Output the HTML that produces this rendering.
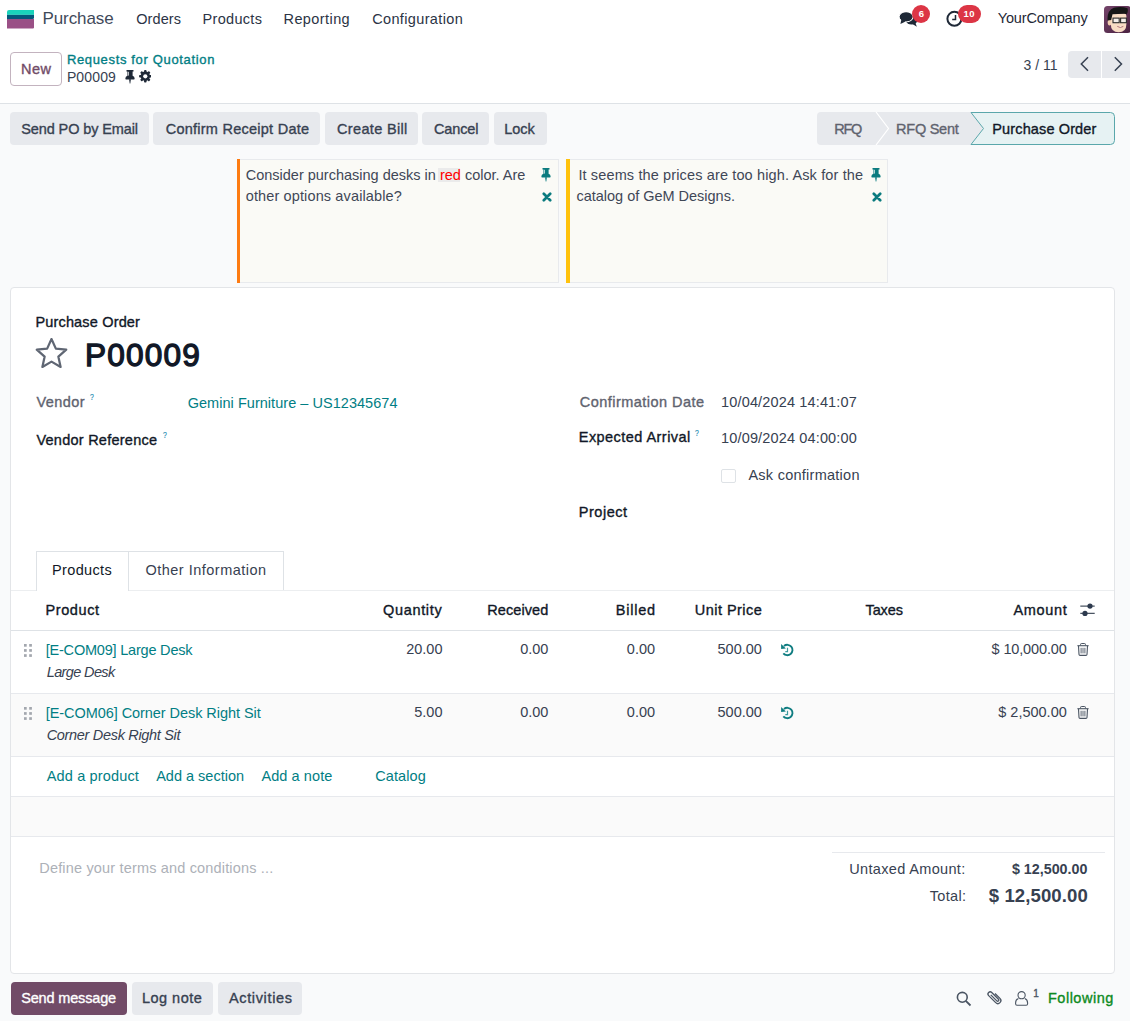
<!DOCTYPE html>
<html><head><meta charset="utf-8"><title>P00009</title>
<style>
html,body{margin:0;padding:0;width:1130px;height:1021px;overflow:hidden;background:#f9fafb;font-family:"Liberation Sans", sans-serif;}
.t{position:absolute;line-height:1;white-space:nowrap;font-family:"Liberation Sans", sans-serif;}
</style></head><body>
<div style="position:absolute;left:0px;top:0px;width:1130.00px;height:103.00px;background:#fff"></div>
<div style="position:absolute;left:0px;top:103px;width:1130.00px;height:1.00px;background:#dee2e6"></div>
<div style="position:absolute;left:0px;top:104px;width:1130.00px;height:917.00px;background:#f9fafb"></div>
<svg style="position:absolute;left:6.7px;top:10.1px" width="27.2" height="18.6" viewBox="0 0 27.2 18.6">
<path d="M0 8.7H27.2V16.6Q27.2 18.6 25.2 18.6H0Z" fill="#9a5086"/>
<path d="M0 4.4H27.2V7.2Q27.2 9 25.4 9H0Z" fill="#04587a"/>
<path d="M2 0H27.2V4.7H0V2Q0 0 2 0Z" fill="#1ad3bb"/></svg>
<div class="t" style="left:42.40px;top:10.11px;font-size:17px;color:#3f4a5a;letter-spacing:-0.066px;">Purchase</div>
<div class="t" style="left:136.20px;top:11.63px;font-size:14.5px;color:#2b3445;letter-spacing:0.107px;">Orders</div>
<div class="t" style="left:202.50px;top:11.63px;font-size:14.5px;color:#2b3445;letter-spacing:0.318px;">Products</div>
<div class="t" style="left:283.50px;top:11.63px;font-size:14.5px;color:#2b3445;letter-spacing:0.412px;">Reporting</div>
<div class="t" style="left:372.20px;top:11.63px;font-size:14.5px;color:#2b3445;letter-spacing:0.360px;">Configuration</div>
<svg style="position:absolute;left:898px;top:10px" width="22" height="18" viewBox="0 0 22 18">
<ellipse cx="13.6" cy="10.3" rx="5.8" ry="4.3" fill="#1f2937"/>
<path d="M14.5 14L18.8 16.7L17.3 12.5Z" fill="#1f2937"/>
<ellipse cx="8.1" cy="6.85" rx="6.9" ry="4.95" fill="#1f2937" stroke="#fff" stroke-width="1.1"/>
<path d="M3.4 9.6L2.4 14L7.6 11.4Z" fill="#1f2937"/>
<ellipse cx="8.1" cy="6.85" rx="6.4" ry="4.45" fill="#1f2937"/>
</svg>
<div style="position:absolute;left:912.2px;top:5px;width:17.80px;height:17.80px;border-radius:9px;background:#dc3545"></div>
<div class="t" style="left:918.70px;top:9.36px;font-size:9.5px;color:#fff;font-weight:700;">6</div>
<svg style="position:absolute;left:946px;top:9.5px" width="18" height="18" viewBox="0 0 18 18">
<circle cx="8.4" cy="8.8" r="7" fill="none" stroke="#1f2937" stroke-width="2"/>
<path d="M9.5 5V9.6H6.2" fill="none" stroke="#1f2937" stroke-width="1.5"/></svg>
<div style="position:absolute;left:958px;top:5px;width:23.00px;height:17.80px;border-radius:9px;background:#dc3545"></div>
<div class="t" style="left:963.60px;top:9.36px;font-size:9.5px;color:#fff;font-weight:700;letter-spacing:0.317px;">10</div>
<div class="t" style="left:997.70px;top:11.23px;font-size:14.5px;color:#1f2937;letter-spacing:-0.130px;">YourCompany</div>
<svg style="position:absolute;left:1104px;top:6px" width="27" height="27" viewBox="0 0 27 27">
<defs><linearGradient id="av" x1="0" y1="0" x2="1" y2="1"><stop offset="0" stop-color="#74446a"/><stop offset="1" stop-color="#4a2140"/></linearGradient></defs>
<rect width="27" height="27" rx="3.5" fill="url(#av)"/>
<ellipse cx="5.6" cy="16.6" rx="1.9" ry="3" fill="#f3cfb0"/>
<path d="M6.8 10Q6.8 7.6 9.2 7.6H20Q22.4 7.6 22.4 10V18Q22.4 26.2 14.6 26.2Q6.8 26.2 6.8 18Z" fill="#f8dcc4"/>
<path d="M3.6 14.5Q2.8 4.5 10 1.8Q17 -0.2 23.5 2.2Q24.5 5.5 22.6 8.2Q21 7.4 19.5 7.8L8.5 8.2L7.2 14Z" fill="#161616"/>
<rect x="9" y="12.1" width="6.2" height="4.6" fill="#f4eee9" stroke="#2b2b2b" stroke-width="1.1"/>
<rect x="16.6" y="12.1" width="5.8" height="4.6" fill="#f4eee9" stroke="#2b2b2b" stroke-width="1.1"/>
<path d="M13.3 20.4Q16.3 22.6 19.3 20.4" fill="#fff" stroke="#b07070" stroke-width="1"/>
</svg>
<div style="position:absolute;left:10px;top:52px;width:50px;height:32px;border:1px solid #c3b3bf;border-radius:4px;background:#fff"></div>
<div class="t" style="left:21.10px;top:61.93px;font-size:14.5px;color:#714b67;letter-spacing:0.382px;-webkit-text-stroke:0.35px;">New</div>
<div class="t" style="left:66.90px;top:53.00px;font-size:13px;color:#017e84;letter-spacing:0.659px;-webkit-text-stroke:0.35px;">Requests for Quotation</div>
<div class="t" style="left:66.90px;top:69.85px;font-size:14px;color:#374151;letter-spacing:0.144px;">P00009</div>
<svg style="position:absolute;left:124.6px;top:70.3px" width="10" height="14" viewBox="0 0 10 14">
<path d="M1.4 0.6Q1.4 0 2 0H8Q8.6 0 8.6 0.6V1.2Q8.6 1.6 8 1.6H7.6V5.8Q9.6 6.6 9.6 8.2V8.8Q9.6 9.4 9 9.4H1Q0.4 9.4 0.4 8.8V8.2Q0.4 6.6 2.4 5.8V1.6H2Q1.4 1.6 1.4 1.2Z" fill="#1f2937"/>
<path d="M3.4 1.8V5.6" stroke="#fff" stroke-width="0.8"/>
<path d="M4.1 9.3H5.9L5.3 13.5H4.7Z" fill="#1f2937"/></svg>
<svg style="position:absolute;left:138.5px;top:70.2px" width="12.6" height="12.6" viewBox="-6.3 -6.3 12.6 12.6">
<g fill="#1f2937"><circle r="4.7"/><rect x="-1.25" y="-6.2" width="2.5" height="3" rx="0.8" transform="rotate(0)"/><rect x="-1.25" y="-6.2" width="2.5" height="3" rx="0.8" transform="rotate(45)"/><rect x="-1.25" y="-6.2" width="2.5" height="3" rx="0.8" transform="rotate(90)"/><rect x="-1.25" y="-6.2" width="2.5" height="3" rx="0.8" transform="rotate(135)"/><rect x="-1.25" y="-6.2" width="2.5" height="3" rx="0.8" transform="rotate(180)"/><rect x="-1.25" y="-6.2" width="2.5" height="3" rx="0.8" transform="rotate(225)"/><rect x="-1.25" y="-6.2" width="2.5" height="3" rx="0.8" transform="rotate(270)"/><rect x="-1.25" y="-6.2" width="2.5" height="3" rx="0.8" transform="rotate(315)"/></g><circle r="2.1" fill="#fff"/></svg>
<div class="t" style="left:1023.60px;top:57.75px;font-size:14px;color:#374151;">3 / 11</div>
<div style="position:absolute;left:1068px;top:51px;width:33.00px;height:27.00px;background:#e7e9ed;border-radius:4px 0 0 4px"></div>
<div style="position:absolute;left:1102px;top:51px;width:34.00px;height:27.00px;background:#e7e9ed;border-radius:0 4px 4px 0"></div>
<svg style="position:absolute;left:1079px;top:56px" width="11" height="16" viewBox="0 0 11 16"><path d="M9 1.2L2.3 8L9 14.8" fill="none" stroke="#374151" stroke-width="1.5"/></svg>
<svg style="position:absolute;left:1112.5px;top:56px" width="11" height="16" viewBox="0 0 11 16"><path d="M1.8 1.2L8.5 8L1.8 14.8" fill="none" stroke="#374151" stroke-width="1.5"/></svg>
<div style="position:absolute;left:10px;top:112px;width:139.00px;height:33.00px;background:#e7e9ed;border-radius:4px"></div>
<div class="t" style="left:21.30px;top:121.53px;font-size:14.5px;color:#374151;letter-spacing:-0.117px;-webkit-text-stroke:0.35px;">Send PO by Email</div>
<div style="position:absolute;left:153.3px;top:112px;width:167.20px;height:33.00px;background:#e7e9ed;border-radius:4px"></div>
<div class="t" style="left:165.70px;top:121.53px;font-size:14.5px;color:#374151;letter-spacing:0.250px;-webkit-text-stroke:0.35px;">Confirm Receipt Date</div>
<div style="position:absolute;left:325.3px;top:112px;width:92.40px;height:33.00px;background:#e7e9ed;border-radius:4px"></div>
<div class="t" style="left:337.00px;top:121.53px;font-size:14.5px;color:#374151;letter-spacing:0.344px;-webkit-text-stroke:0.35px;">Create Bill</div>
<div style="position:absolute;left:422.4px;top:112px;width:67.10px;height:33.00px;background:#e7e9ed;border-radius:4px"></div>
<div class="t" style="left:434.00px;top:121.53px;font-size:14.5px;color:#374151;letter-spacing:-0.143px;-webkit-text-stroke:0.35px;">Cancel</div>
<div style="position:absolute;left:493.7px;top:112px;width:53.10px;height:33.00px;background:#e7e9ed;border-radius:4px"></div>
<div class="t" style="left:504.20px;top:121.53px;font-size:14.5px;color:#374151;-webkit-text-stroke:0.35px;">Lock</div>
<svg style="position:absolute;left:817px;top:112px" width="298" height="33" viewBox="0 0 298 33">
<path d="M4 0H59L71.5 16.5L59 33H4Q0 33 0 29V4Q0 0 4 0Z" fill="#e7e9ed"/>
<path d="M59 0H154L166.5 16.5L154 33H59L71.5 16.5Z" fill="#e7e9ed"/>
<path d="M59 0L71.5 16.5L59 33" fill="none" stroke="#fff" stroke-width="1.2"/>
<path d="M154 0.5H293.5Q297.5 0.5 297.5 4.5V28.5Q297.5 32.5 293.5 32.5H154L166.5 16.5Z" fill="#e6f2f3" stroke="#5aa7ab" stroke-width="1"/>
</svg>
<div class="t" style="left:834.20px;top:121.53px;font-size:14.5px;color:#5f636f;letter-spacing:-1.214px;-webkit-text-stroke:0.35px;">RFQ</div>
<div class="t" style="left:896.10px;top:121.53px;font-size:14.5px;color:#5f636f;letter-spacing:-0.262px;-webkit-text-stroke:0.35px;">RFQ Sent</div>
<div class="t" style="left:992.30px;top:121.53px;font-size:14.5px;color:#111827;letter-spacing:0.129px;-webkit-text-stroke:0.35px;">Purchase Order</div>
<div style="position:absolute;left:236.5px;top:158.5px;width:322.00px;height:124.50px;background:#fafaf6;border:1px solid #e8eaed;box-sizing:border-box;"></div>
<div style="position:absolute;left:236.5px;top:158.5px;width:3.60px;height:124.50px;background:#fd7b12"></div>
<div style="position:absolute;left:566.4px;top:158.5px;width:322.00px;height:124.50px;background:#fafaf6;border:1px solid #e8eaed;box-sizing:border-box;"></div>
<div style="position:absolute;left:566.4px;top:158.5px;width:3.60px;height:124.50px;background:#ffc20e"></div>
<div style="position:absolute;left:438px;top:167.6px;width:22.3px;height:14.6px;background:#ebebeb"></div>
<div class="t" style="left:245.70px;top:168.03px;font-size:14.5px;color:#3f4756;">Consider purchasing desks in <span style="color:#f00">red</span> color. Are</div>
<div class="t" style="left:245.70px;top:189.03px;font-size:14.5px;color:#3f4756;letter-spacing:0.130px;">other options available?</div>
<div class="t" style="left:578.40px;top:168.03px;font-size:14.5px;color:#3f4756;letter-spacing:0.132px;">It seems the prices are too high. Ask for the</div>
<div class="t" style="left:576.50px;top:189.03px;font-size:14.5px;color:#3f4756;letter-spacing:-0.016px;">catalog of GeM Designs.</div>
<svg style="position:absolute;left:540.6px;top:168.4px" width="10" height="14" viewBox="0 0 10 14">
<path d="M1.4 0.6Q1.4 0 2 0H8Q8.6 0 8.6 0.6V1.2Q8.6 1.6 8 1.6H7.6V5.8Q9.6 6.6 9.6 8.2V8.8Q9.6 9.4 9 9.4H1Q0.4 9.4 0.4 8.8V8.2Q0.4 6.6 2.4 5.8V1.6H2Q1.4 1.6 1.4 1.2Z" fill="#0b7b7f"/>
<path d="M3.4 1.8V5.6" stroke="#fafaf6" stroke-width="0.8"/>
<path d="M4.1 9.3H5.9L5.3 13.5H4.7Z" fill="#0b7b7f"/></svg>
<svg style="position:absolute;left:541.6px;top:191.6px" width="10" height="10" viewBox="0 0 10 10">
<path d="M1.8 1.8L8.2 8.2M8.2 1.8L1.8 8.2" stroke="#0b7b7f" stroke-width="2.7" stroke-linecap="round"/></svg>
<svg style="position:absolute;left:871px;top:168.4px" width="10" height="14" viewBox="0 0 10 14">
<path d="M1.4 0.6Q1.4 0 2 0H8Q8.6 0 8.6 0.6V1.2Q8.6 1.6 8 1.6H7.6V5.8Q9.6 6.6 9.6 8.2V8.8Q9.6 9.4 9 9.4H1Q0.4 9.4 0.4 8.8V8.2Q0.4 6.6 2.4 5.8V1.6H2Q1.4 1.6 1.4 1.2Z" fill="#0b7b7f"/>
<path d="M3.4 1.8V5.6" stroke="#fafaf6" stroke-width="0.8"/>
<path d="M4.1 9.3H5.9L5.3 13.5H4.7Z" fill="#0b7b7f"/></svg>
<svg style="position:absolute;left:872.4px;top:191.8px" width="10" height="10" viewBox="0 0 10 10">
<path d="M1.8 1.8L8.2 8.2M8.2 1.8L1.8 8.2" stroke="#0b7b7f" stroke-width="2.7" stroke-linecap="round"/></svg>
<div style="position:absolute;left:10px;top:287px;width:1103px;height:685px;background:#fff;border:1px solid #e3e5e8;border-radius:4px"></div>
<div class="t" style="left:35.40px;top:315.43px;font-size:14.5px;color:#111827;letter-spacing:0.168px;-webkit-text-stroke:0.35px;">Purchase Order</div>
<svg style="position:absolute;left:35px;top:337.5px" width="33" height="32" viewBox="0 0 33 32">
<path d="M16.5 2.2L20.6 11.2L30.4 12.2L23 18.8L25.1 28.5L16.5 23.5L7.9 28.5L10 18.8L2.6 12.2L12.4 11.2Z" fill="none" stroke="#5f6673" stroke-width="2.1" stroke-linejoin="round" transform="translate(16.5 16) scale(1.06) translate(-16.5 -16.3)"/></svg>
<div class="t" style="left:84.90px;top:339.65px;font-size:31.6px;color:#111827;letter-spacing:1.189px;-webkit-text-stroke:1.3px">P00009</div>
<div class="t" style="left:36.40px;top:394.53px;font-size:14.5px;color:#5f636f;letter-spacing:0.434px;-webkit-text-stroke:0.35px;">Vendor</div>
<div class="t" style="left:89.6px;top:391.59999999999997px;font-size:9.5px;color:#2b8fb3;-webkit-text-stroke:0.2px;transform:scaleX(0.72);transform-origin:0 0">?</div>
<div class="t" style="left:187.70px;top:396.23px;font-size:14.5px;color:#017e84;letter-spacing:0.036px;">Gemini Furniture – US12345674</div>
<div class="t" style="left:36.40px;top:432.73px;font-size:14.5px;color:#111827;letter-spacing:0.252px;-webkit-text-stroke:0.35px;">Vendor Reference</div>
<div class="t" style="left:162.70000000000002px;top:429.79999999999995px;font-size:9.5px;color:#2b8fb3;-webkit-text-stroke:0.2px;transform:scaleX(0.72);transform-origin:0 0">?</div>
<div class="t" style="left:579.80px;top:395.33px;font-size:14.5px;color:#5f636f;letter-spacing:0.463px;-webkit-text-stroke:0.35px;">Confirmation Date</div>
<div class="t" style="left:721.10px;top:395.33px;font-size:14.5px;color:#374151;letter-spacing:0.146px;">10/04/2024 14:41:07</div>
<div class="t" style="left:578.80px;top:429.83px;font-size:14.5px;color:#111827;letter-spacing:0.443px;-webkit-text-stroke:0.35px;">Expected Arrival</div>
<div class="t" style="left:695.1999999999999px;top:427.9px;font-size:9.5px;color:#2b8fb3;-webkit-text-stroke:0.2px;transform:scaleX(0.72);transform-origin:0 0">?</div>
<div class="t" style="left:721.10px;top:431.13px;font-size:14.5px;color:#374151;letter-spacing:0.146px;">10/09/2024 04:00:00</div>
<div style="position:absolute;left:720.8px;top:469.4px;width:15.10px;height:14.00px;border:1px solid #dee2e6;box-sizing:border-box;border-radius:2px;background:#fff"></div>
<div class="t" style="left:748.40px;top:468.33px;font-size:14.5px;color:#374151;letter-spacing:0.259px;">Ask confirmation</div>
<div class="t" style="left:578.80px;top:505.43px;font-size:14.5px;color:#111827;letter-spacing:0.533px;-webkit-text-stroke:0.35px;">Project</div>
<div style="position:absolute;left:11px;top:589.5px;width:1103.00px;height:1.00px;background:#eceef0"></div>
<div style="position:absolute;left:35.5px;top:550.5px;width:93.5px;height:40px;background:#fff;border:1px solid #dee2e6;border-bottom:none;box-sizing:border-box"></div>
<div style="position:absolute;left:128.5px;top:550.5px;width:155.5px;height:39px;border:1px solid #dee2e6;border-left:none;border-bottom:none;box-sizing:border-box"></div>
<div class="t" style="left:52.10px;top:563.03px;font-size:14.5px;color:#111827;letter-spacing:0.347px;">Products</div>
<div class="t" style="left:145.50px;top:563.03px;font-size:14.5px;color:#374151;letter-spacing:0.484px;">Other Information</div>
<div style="position:absolute;left:11px;top:630.3px;width:1103.00px;height:1.00px;background:#dee2e6"></div>
<div class="t" style="left:45.50px;top:602.73px;font-size:14.5px;color:#111827;letter-spacing:0.593px;-webkit-text-stroke:0.35px;">Product</div>
<div class="t" style="left:383.00px;top:602.73px;font-size:14.5px;color:#111827;letter-spacing:0.664px;-webkit-text-stroke:0.35px;">Quantity</div>
<div class="t" style="left:487.20px;top:602.73px;font-size:14.5px;color:#111827;letter-spacing:0.102px;-webkit-text-stroke:0.35px;">Received</div>
<div class="t" style="left:615.80px;top:602.73px;font-size:14.5px;color:#111827;letter-spacing:0.760px;-webkit-text-stroke:0.35px;">Billed</div>
<div class="t" style="left:694.70px;top:602.73px;font-size:14.5px;color:#111827;letter-spacing:0.479px;-webkit-text-stroke:0.35px;">Unit Price</div>
<div class="t" style="left:1013.40px;top:602.73px;font-size:14.5px;color:#111827;letter-spacing:0.671px;-webkit-text-stroke:0.35px;">Amount</div>
<div class="t" style="left:865.50px;top:602.73px;font-size:14.5px;color:#111827;letter-spacing:-0.107px;-webkit-text-stroke:0.35px;">Taxes</div>
<svg style="position:absolute;left:1079.5px;top:603px" width="16" height="14" viewBox="0 0 16 14">
<path d="M0.3 3.1H14.7M0.3 10.4H14.7" stroke="#4b5563" stroke-width="1.1"/>
<circle cx="10" cy="3.1" r="2.6" fill="#2d3a4e"/><circle cx="5" cy="10.4" r="2.6" fill="#2d3a4e"/></svg>
<div style="position:absolute;left:11px;top:693px;width:1103.00px;height:1.00px;background:#e7e9ed"></div>
<div style="position:absolute;left:11px;top:694px;width:1103.00px;height:62.00px;background:#fafafa"></div>
<div style="position:absolute;left:11px;top:756px;width:1103.00px;height:1.00px;background:#e7e9ed"></div>
<div style="position:absolute;left:11px;top:796px;width:1103.00px;height:1.00px;background:#e7e9ed"></div>
<div style="position:absolute;left:11px;top:797px;width:1103.00px;height:39.00px;background:#fafafa"></div>
<div style="position:absolute;left:11px;top:836px;width:1103.00px;height:1.00px;background:#e7e9ed"></div>
<svg style="position:absolute;left:24px;top:643.8px" width="9" height="14" viewBox="0 0 9 14"><g fill="#a3a7ae">
<rect x="0" y="0" width="2.7" height="2.7"/><rect x="5.2" y="0" width="2.7" height="2.7"/>
<rect x="0" y="5.1" width="2.7" height="2.7"/><rect x="5.2" y="5.1" width="2.7" height="2.7"/>
<rect x="0" y="10.2" width="2.7" height="2.7"/><rect x="5.2" y="10.2" width="2.7" height="2.7"/></g></svg>
<div class="t" style="left:45.70px;top:642.53px;font-size:14.5px;color:#017e84;letter-spacing:-0.202px;">[E-COM09] Large Desk</div>
<div class="t" style="left:46.70px;top:664.83px;font-size:14.5px;color:#374151;font-style:italic;letter-spacing:-0.622px;">Large Desk</div>
<div class="t" style="left:406.18px;top:642.23px;font-size:14.5px;color:#374151;">20.00</div>
<div class="t" style="left:520.14px;top:642.23px;font-size:14.5px;color:#374151;">0.00</div>
<div class="t" style="left:626.84px;top:642.23px;font-size:14.5px;color:#374151;">0.00</div>
<div class="t" style="left:717.51px;top:642.23px;font-size:14.5px;color:#374151;">500.00</div>
<svg style="position:absolute;left:780px;top:643px" width="14" height="14" viewBox="0 0 14 14">
<path d="M3.96 3.02A5.2 5.2 0 1 1 3.32 10.34" fill="none" stroke="#0e7c80" stroke-width="1.85"/>
<path d="M1.1 1L1.1 5.9L5.9 5.6Z" fill="#0e7c80"/>
<path d="M7.5 4.7V8.6H5.3" fill="none" stroke="#3c9a9e" stroke-width="1.2"/></svg>
<div class="t" style="left:991.60px;top:642.23px;font-size:14.5px;color:#374151;letter-spacing:-0.144px;">$ 10,000.00</div>
<svg style="position:absolute;left:1077px;top:643.2px" width="12" height="13" viewBox="0 0 12 13">
<path d="M3.6 2.4V1.3Q3.6 0.5 4.4 0.5H7.6Q8.4 0.5 8.4 1.3V2.4" fill="none" stroke="#4b5563" stroke-width="1"/>
<path d="M0.4 2.7H11.6" stroke="#4b5563" stroke-width="1.1"/>
<path d="M1.5 2.9L2 11.5Q2.1 12.4 3 12.4H9Q9.9 12.4 10 11.5L10.5 2.9" fill="none" stroke="#4b5563" stroke-width="1.1"/>
<path d="M4.1 4.8V10.4M6 4.8V10.4M7.9 4.8V10.4" stroke="#4b5563" stroke-width="0.9"/></svg>
<svg style="position:absolute;left:24px;top:707.0px" width="9" height="14" viewBox="0 0 9 14"><g fill="#a3a7ae">
<rect x="0" y="0" width="2.7" height="2.7"/><rect x="5.2" y="0" width="2.7" height="2.7"/>
<rect x="0" y="5.1" width="2.7" height="2.7"/><rect x="5.2" y="5.1" width="2.7" height="2.7"/>
<rect x="0" y="10.2" width="2.7" height="2.7"/><rect x="5.2" y="10.2" width="2.7" height="2.7"/></g></svg>
<div class="t" style="left:45.70px;top:705.73px;font-size:14.5px;color:#017e84;letter-spacing:-0.058px;">[E-COM06] Corner Desk Right Sit</div>
<div class="t" style="left:46.70px;top:728.03px;font-size:14.5px;color:#374151;font-style:italic;letter-spacing:-0.319px;">Corner Desk Right Sit</div>
<div class="t" style="left:414.24px;top:705.43px;font-size:14.5px;color:#374151;">5.00</div>
<div class="t" style="left:520.14px;top:705.43px;font-size:14.5px;color:#374151;">0.00</div>
<div class="t" style="left:626.84px;top:705.43px;font-size:14.5px;color:#374151;">0.00</div>
<div class="t" style="left:717.51px;top:705.43px;font-size:14.5px;color:#374151;">500.00</div>
<svg style="position:absolute;left:780px;top:706.2px" width="14" height="14" viewBox="0 0 14 14">
<path d="M3.96 3.02A5.2 5.2 0 1 1 3.32 10.34" fill="none" stroke="#0e7c80" stroke-width="1.85"/>
<path d="M1.1 1L1.1 5.9L5.9 5.6Z" fill="#0e7c80"/>
<path d="M7.5 4.7V8.6H5.3" fill="none" stroke="#3c9a9e" stroke-width="1.2"/></svg>
<div class="t" style="left:998.23px;top:705.43px;font-size:14.5px;color:#374151;">$ 2,500.00</div>
<svg style="position:absolute;left:1077px;top:706.4000000000001px" width="12" height="13" viewBox="0 0 12 13">
<path d="M3.6 2.4V1.3Q3.6 0.5 4.4 0.5H7.6Q8.4 0.5 8.4 1.3V2.4" fill="none" stroke="#4b5563" stroke-width="1"/>
<path d="M0.4 2.7H11.6" stroke="#4b5563" stroke-width="1.1"/>
<path d="M1.5 2.9L2 11.5Q2.1 12.4 3 12.4H9Q9.9 12.4 10 11.5L10.5 2.9" fill="none" stroke="#4b5563" stroke-width="1.1"/>
<path d="M4.1 4.8V10.4M6 4.8V10.4M7.9 4.8V10.4" stroke="#4b5563" stroke-width="0.9"/></svg>
<div class="t" style="left:46.70px;top:768.73px;font-size:14.5px;color:#017e84;letter-spacing:0.154px;">Add a product</div>
<div class="t" style="left:156.20px;top:768.73px;font-size:14.5px;color:#017e84;">Add a section</div>
<div class="t" style="left:261.40px;top:768.73px;font-size:14.5px;color:#017e84;letter-spacing:0.091px;">Add a note</div>
<div class="t" style="left:375.30px;top:768.73px;font-size:14.5px;color:#017e84;letter-spacing:0.081px;">Catalog</div>
<div style="position:absolute;left:832px;top:852.3px;width:273.00px;height:1.00px;background:#e7e9ed"></div>
<div class="t" style="left:39.30px;top:860.53px;font-size:14.5px;color:#adb1b8;letter-spacing:0.167px;">Define your terms and conditions ...</div>
<div class="t" style="left:849.30px;top:861.83px;font-size:14.5px;color:#374151;letter-spacing:0.335px;">Untaxed Amount:</div>
<div class="t" style="left:1011.90px;top:862.00px;font-size:14.3px;color:#374151;font-weight:700;">$ 12,500.00</div>
<div class="t" style="left:929.80px;top:889.33px;font-size:14.5px;color:#374151;letter-spacing:0.314px;">Total:</div>
<div class="t" style="left:988.80px;top:887.16px;font-size:18.6px;color:#374151;font-weight:700;letter-spacing:0.072px;">$ 12,500.00</div>
<div style="position:absolute;left:10.8px;top:982.2px;width:116.70px;height:33.10px;background:#714b67;border-radius:4px"></div>
<div class="t" style="left:21.20px;top:991.33px;font-size:14.5px;color:#fff;letter-spacing:-0.160px;-webkit-text-stroke:0.35px;">Send message</div>
<div style="position:absolute;left:132.3px;top:982.2px;width:80.70px;height:33.10px;background:#e7e9ed;border-radius:4px"></div>
<div class="t" style="left:142.00px;top:991.33px;font-size:14.5px;color:#374151;letter-spacing:0.475px;-webkit-text-stroke:0.35px;">Log note</div>
<div style="position:absolute;left:218.1px;top:982.2px;width:84.40px;height:33.10px;background:#e7e9ed;border-radius:4px"></div>
<div class="t" style="left:228.90px;top:991.33px;font-size:14.5px;color:#374151;letter-spacing:0.660px;-webkit-text-stroke:0.35px;">Activities</div>
<svg style="position:absolute;left:955.5px;top:990.5px" width="16" height="16" viewBox="0 0 16 16">
<circle cx="6.3" cy="6.3" r="4.9" fill="none" stroke="#4b5563" stroke-width="1.6"/><path d="M9.8 9.8L14.5 14.5" stroke="#4b5563" stroke-width="1.8"/></svg>
<svg style="position:absolute;left:986px;top:988px" width="17" height="18" viewBox="0 0 17 18">
<path d="M-1 -4V4.5A1.2 1.2 0 0 0 1.4 4.5V-5A2.2 2.2 0 0 0 -3 -5V5A3 3 0 0 0 3 5V-2" fill="none" stroke="#4b5563" stroke-width="1.3" transform="translate(8.3 9) rotate(-45)"/></svg>
<svg style="position:absolute;left:1015px;top:991px" width="14" height="16" viewBox="0 0 14 16">
<circle cx="6.6" cy="4.2" r="3.6" fill="none" stroke="#4b5563" stroke-width="1.1"/>
<path d="M3.4 7.4Q0.6 8.4 0.6 12V12.8Q0.6 14.3 2 14.3H11.2Q12.6 14.3 12.6 12.8V12Q12.6 8.4 9.8 7.4" fill="none" stroke="#4b5563" stroke-width="1.1"/></svg>
<div class="t" style="left:1033.30px;top:989.13px;font-size:10px;color:#4b5563;-webkit-text-stroke:0.35px;">1</div>
<div class="t" style="left:1048.00px;top:990.73px;font-size:14.5px;color:#0d8a22;letter-spacing:0.502px;-webkit-text-stroke:0.35px;">Following</div>
</body></html>
